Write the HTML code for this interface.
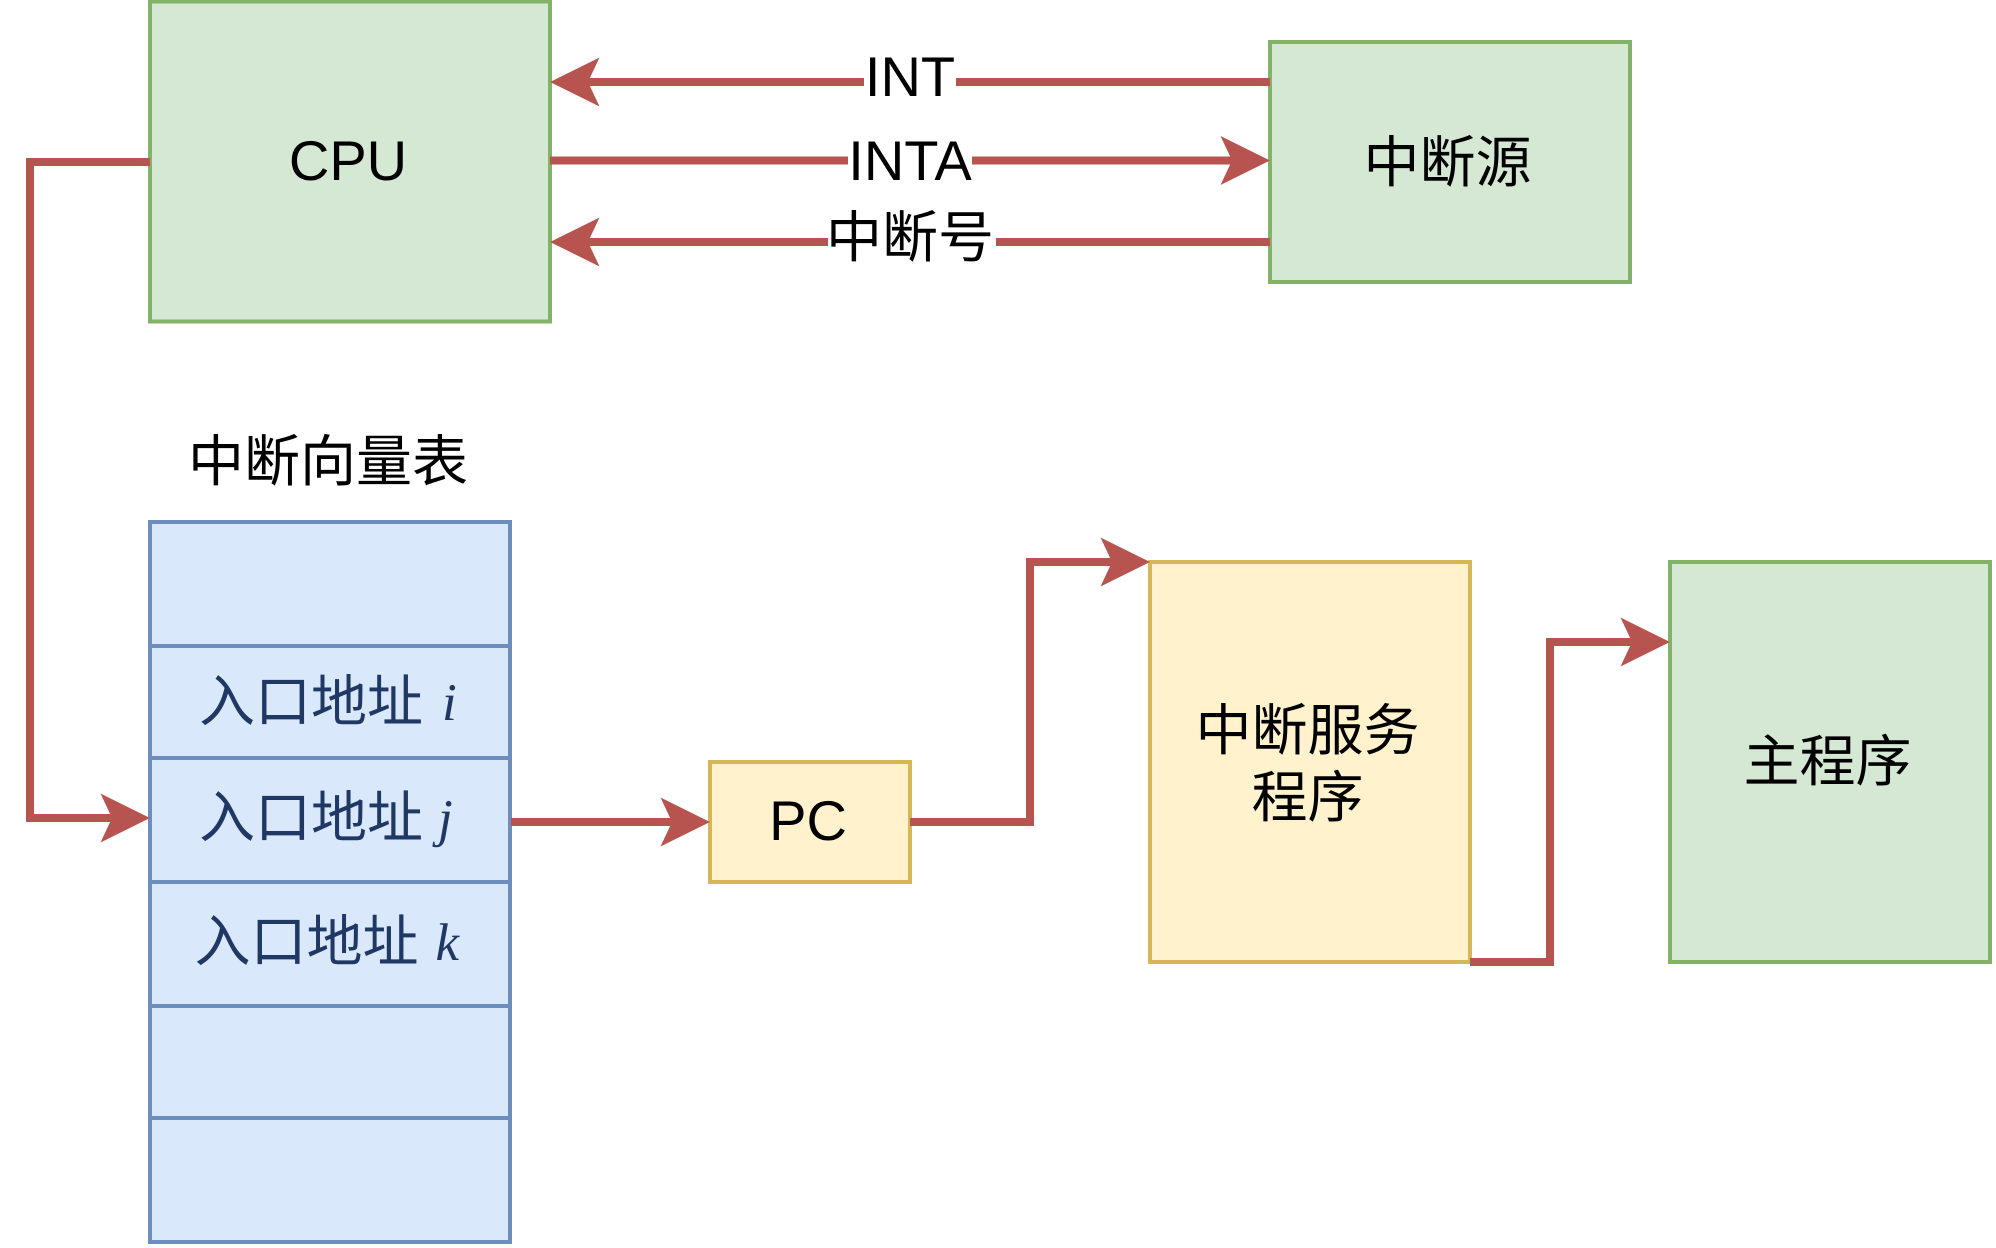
<!DOCTYPE html>
<html>
<head>
<meta charset="utf-8">
<style>
html,body{margin:0;padding:0;background:#fff;width:1996px;height:1248px;overflow:hidden}
svg{display:block}
text{font-family:"Liberation Sans","WenQuanYi Zen Hei",sans-serif;font-size:56px;fill:#000;text-rendering:geometricPrecision}
.c{text-anchor:middle}
.b{fill:#1f3864}
.m{font-family:"Liberation Serif",serif;font-style:italic;font-size:53px;fill:#1f3864}
.l{fill:none;stroke:#b85450;stroke-width:8;stroke-linejoin:miter;stroke-linecap:butt}
.h{fill:#b85450}
.g{fill:#d5e8d4;stroke:#82b366;stroke-width:4}
.y{fill:#fff2cc;stroke:#d6b656;stroke-width:4}
.t{fill:#dae8fc;stroke:#6c8ebf;stroke-width:4}
</style>
</head>
<body>
<svg width="1996" height="1248" viewBox="0 0 1996 1248" xmlns="http://www.w3.org/2000/svg">
<rect width="1996" height="1248" fill="#fff"/>
<rect class="g" x="150" y="1.5" width="400" height="320"/>
<rect class="g" x="1270" y="42" width="360" height="240"/>
<rect class="t" x="150" y="522" width="360" height="124"/>
<rect class="t" x="150" y="646" width="360" height="112"/>
<rect class="t" x="150" y="758" width="360" height="124"/>
<rect class="t" x="150" y="882" width="360" height="124"/>
<rect class="t" x="150" y="1006" width="360" height="112"/>
<rect class="t" x="150" y="1118" width="360" height="124"/>
<rect class="y" x="710" y="762" width="200" height="120"/>
<rect class="y" x="1150" y="562" width="320" height="400"/>
<rect class="g" x="1670" y="562" width="320" height="400"/>

<path class="l" d="M1270 82H585"/>
<polygon class="h" points="550,82 599.500,57.500 588,82 599.500,106.500"/>
<path class="l" d="M550 160.500H1235"/>
<polygon class="h" points="1270,160.500 1220.500,136 1232,160.500 1220.500,185"/>
<path class="l" d="M1270 242H585"/>
<polygon class="h" points="550,242 599.500,217.500 588,242 599.500,266.500"/>
<path class="l" d="M150 162H30V818H115"/>
<polygon class="h" points="150,818 100.500,793.500 112,818 100.500,842.500"/>
<path class="l" d="M511 822H675"/>
<polygon class="h" points="710,822 660.500,797.500 672,822 660.500,846.500"/>
<path class="l" d="M910 822H1030V562H1115"/>
<polygon class="h" points="1150,562 1100.500,537.500 1112,562 1100.500,586.500"/>
<path class="l" d="M1470 962H1550V642H1635"/>
<polygon class="h" points="1670,642 1620.500,617.500 1632,642 1620.500,666.500"/>

<rect x="864" y="60" width="92" height="44" fill="#fff"/>
<rect x="848" y="140" width="124" height="44" fill="#fff"/>
<rect x="828" y="220" width="168" height="44" fill="#fff"/>

<text class="c" x="348" y="180">CPU</text>
<text class="c" x="910" y="96">INT</text>
<text class="c" x="910" y="180">INTA</text>
<text class="c" x="910" y="257">中断号</text>
<text class="c" x="1447.500" y="182">中断源</text>
<text class="c" x="328" y="481">中断向量表</text>
<text x="199" y="721" class="b">入口地址</text>
<text x="442" y="720" class="m">i</text>
<text x="199" y="837" class="b">入口地址</text>
<text x="438" y="836" class="m">j</text>
<text x="194.500" y="961" class="b">入口地址</text>
<text x="435.500" y="960" class="m">k</text>
<text class="c" x="808" y="840">PC</text>
<text class="c" x="1307.500" y="750">中断服务</text>
<text class="c" x="1307.500" y="817">程序</text>
<text class="c" x="1827.500" y="781">主程序</text>
</svg>
</body>
</html>
